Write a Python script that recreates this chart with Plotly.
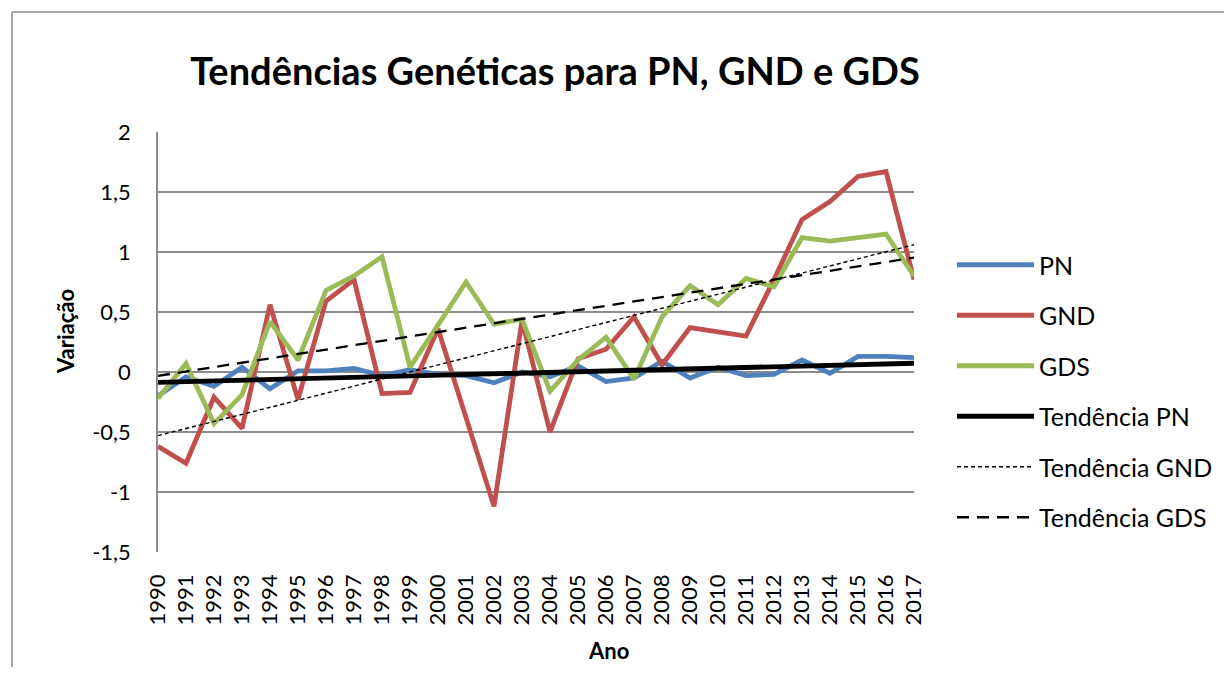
import numpy as np
import plotly.graph_objects as go

years = list(range(1990, 2018))
pn = [-0.20, -0.04, -0.12, 0.04, -0.14, 0.01, 0.01, 0.03, -0.03, 0.02,
      -0.02, -0.03, -0.09, 0.00, -0.04, 0.05, -0.08, -0.05, 0.09, -0.05,
      0.04, -0.03, -0.02, 0.10, -0.01, 0.13, 0.13, 0.12]
gnd = [-0.62, -0.76, -0.21, -0.47, 0.56, -0.23, 0.59, 0.77, -0.18, -0.17,
       0.36, -0.38, -1.12, 0.43, -0.50, 0.11, 0.19, 0.46, 0.06, 0.37,
       0.34, 0.30, 0.77, 1.27, 1.42, 1.63, 1.67, 0.77]
gds = [-0.22, 0.07, -0.43, -0.19, 0.42, 0.10, 0.68, 0.80, 0.96, 0.04,
       0.39, 0.75, 0.40, 0.44, -0.16, 0.10, 0.29, -0.06, 0.46, 0.72,
       0.56, 0.78, 0.71, 1.12, 1.09, 1.12, 1.15, 0.80]
y_ticks = [2, 1.5, 1, 0.5, 0, -0.5, -1, -1.5]
y_tick_labels = ["2", "1,5", "1", "0,5", "0", "-0,5", "-1", "-1,5"]

FONT = "Lato"
x = np.array(years, dtype=float)

def trend(vals):
    a, b = np.polyfit(x, np.array(vals), 1)
    return list(a * x + b)

fig = go.Figure()
series = [
    ("PN", pn, dict(color="#4F81BD", width=4.8)),
    ("GND", gnd, dict(color="#C0504D", width=4.8)),
    ("GDS", gds, dict(color="#9BBB59", width=4.8)),
]
for name, vals, line in series:
    fig.add_trace(go.Scatter(x=years, y=vals, mode="lines", name=name,
                             legendgroup=name, line=line))

trends = [
    ("Tendência PN", pn, dict(color="black", width=4.8)),
    ("Tendência GND", gnd, dict(color="black", width=1.4, dash="4px,3px")),
    ("Tendência GDS", gds, dict(color="black", width=2.3, dash="12px,8px")),
]
for name, vals, line in trends:
    fig.add_trace(go.Scatter(x=years, y=trend(vals), mode="lines", name=name,
                             legendgroup=name, line=line))

GRID = "#8c8c8c"
# page body has an 8px margin; the figure is sized/placed to account for it
W, H = 1224, 659
fig.update_layout(
    width=W, height=H,
    margin=dict(l=150, r=318, t=124, b=115),
    paper_bgcolor="white", plot_bgcolor="white",
    font=dict(family=FONT, size=22, color="black"),
    title=dict(text="<b>Tendências Genéticas para PN, GND e GDS</b>",
               x=547 / W, xanchor="center", y=1 - 64 / H, yanchor="middle",
               font=dict(family=FONT, size=38, color="black")),
    showlegend=True,
    legend=dict(x=(952 - 158) / 756, xanchor="left", y=(552 - 242) / 420, yanchor="top",
                font=dict(family=FONT, size=25), tracegroupgap=15,
                itemwidth=77, bgcolor="rgba(0,0,0,0)"),
    xaxis=dict(range=[1990, 2017], tickmode="array", tickvals=years,
               ticktext=[str(y) for y in years], tickangle=-90,
               showgrid=False, zeroline=False, showline=False,
               ticklabelstandoff=17,
               tickfont=dict(family=FONT, size=22)),
    yaxis=dict(range=[-1.5, 2], tickmode="array", tickvals=y_ticks,
               ticktext=y_tick_labels, showgrid=True, gridcolor=GRID, gridwidth=1.5,
               zeroline=False, showline=True, linecolor=GRID, linewidth=1.5,
               tickfont=dict(family=FONT, size=22), ticks="", ticklabelstandoff=21),
)

fig.add_annotation(text="<b>Ano</b>", xref="paper", yref="paper",
                   x=(608 - 158) / 756, y=(552 - 650) / 420,
                   xanchor="center", yanchor="middle", showarrow=False,
                   font=dict(family=FONT, size=22, color="black"))
fig.add_annotation(text="<b>Variação</b>", xref="paper", yref="paper",
                   x=(65 - 158) / 756, y=(552 - 332) / 420, textangle=-90,
                   xanchor="center", yanchor="middle", showarrow=False,
                   font=dict(family=FONT, size=22, color="black"))

# outer chart-area border (top and left edges visible in the reference)
px_x = lambda p: (p - 158) / 756
px_y = lambda p: (552 - p) / 420
fig.add_shape(type="line", xref="paper", yref="paper",
              x0=px_x(12), x1=px_x(1240), y0=px_y(12), y1=px_y(12),
              line=dict(color=GRID, width=1.5))
fig.add_shape(type="line", xref="paper", yref="paper",
              x0=px_x(12), x1=px_x(12), y0=px_y(12), y1=px_y(680),
              line=dict(color=GRID, width=1.5))

fig.write_html("out.html")
